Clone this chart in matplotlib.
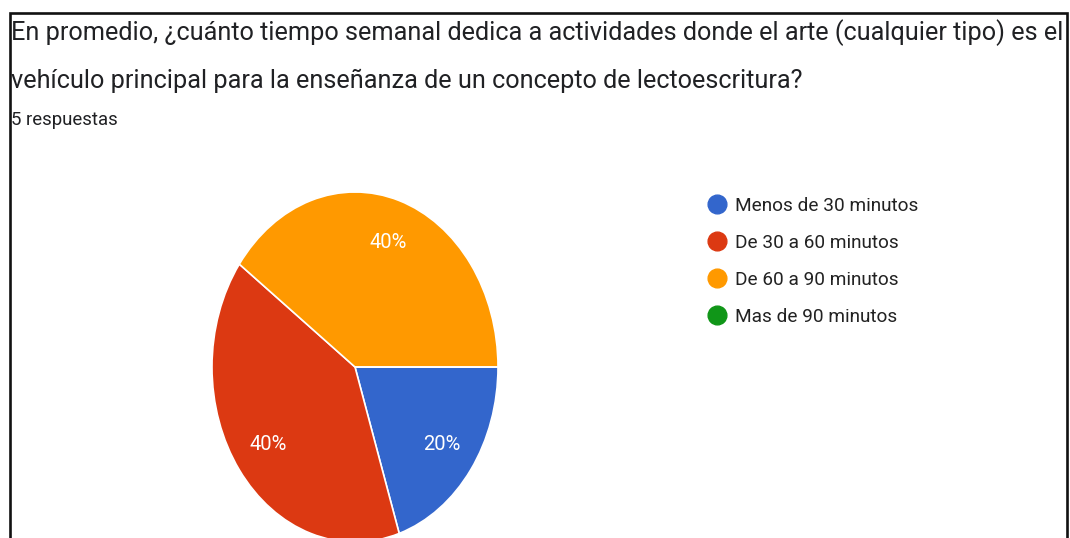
import matplotlib
matplotlib.use("Agg")
import matplotlib.pyplot as plt
from matplotlib.lines import Line2D
from matplotlib.patches import Rectangle

title_lines = [
    "En promedio, ¿cuánto tiempo semanal dedica a actividades donde el arte (cualquier tipo) es el",
    "vehículo principal para la enseñanza de un concepto de lectoescritura?",
]
subtitle = "5 respuestas"
categories = ["Menos de 30 minutos", "De 30 a 60 minutos", "De 60 a 90 minutos", "Mas de 90 minutos"]
counts = [1, 2, 2, 0]
colors = ["#3366cc", "#dc3912", "#ff9900", "#109618"]

W, H = 1070, 538
plt.rcParams["font.family"] = ["Roboto", "DejaVu Sans"]

fig = plt.figure(figsize=(W / 100, H / 100), dpi=100)
fig.patch.set_facecolor("white")


def fx(px):
    return px / W


def fy(py):
    return 1 - py / H


# screenshot frame
fig.add_artist(Rectangle((fx(9.5), fy(560)), fx(1067) - fx(9.5), fy(12.5) - fy(560),
                         transform=fig.transFigure, fill=False, edgecolor="#111111", linewidth=1.9))

fig.text(fx(11), fy(40), title_lines[0], fontsize=18.2, color="#202124", va="baseline", ha="left")
fig.text(fx(11), fy(88), title_lines[1], fontsize=18.2, color="#202124", va="baseline", ha="left")
fig.text(fx(11), fy(125), subtitle, fontsize=13.4, color="#202124", va="baseline", ha="left")

# pie (screenshot is stretched vertically, so the pie is an ellipse)
cx, cy, rx, ry = 355, 367, 143, 175
ax = fig.add_axes([fx(cx - rx), fy(cy + ry), 2 * rx / W, 2 * ry / H])
wedges, texts, autotexts = ax.pie(
    counts, colors=colors, startangle=0, counterclock=False, radius=1,
    autopct=lambda p: f"{p:.0f}%" if p > 0 else "", pctdistance=0.75,
    wedgeprops=dict(edgecolor="white", linewidth=1.2),
    textprops=dict(color="white", fontsize=14.5),
)
ax.set_aspect("auto")
ax.set_xlim(-1, 1)
ax.set_ylim(-1, 1)
ax.axis("off")

handles = [Line2D([0], [0], marker="o", linestyle="none", markersize=13.5,
                  markerfacecolor=c, markeredgecolor=c) for c in colors]
fig.legend(handles, categories, loc="upper left", bbox_to_anchor=(fx(707), fy(197)),
           frameon=False, fontsize=13.7, handlelength=1.0, handletextpad=0.45,
           labelspacing=1.0, borderpad=0, borderaxespad=0, labelcolor="#222222")

fig.savefig("out.png", dpi=100)
